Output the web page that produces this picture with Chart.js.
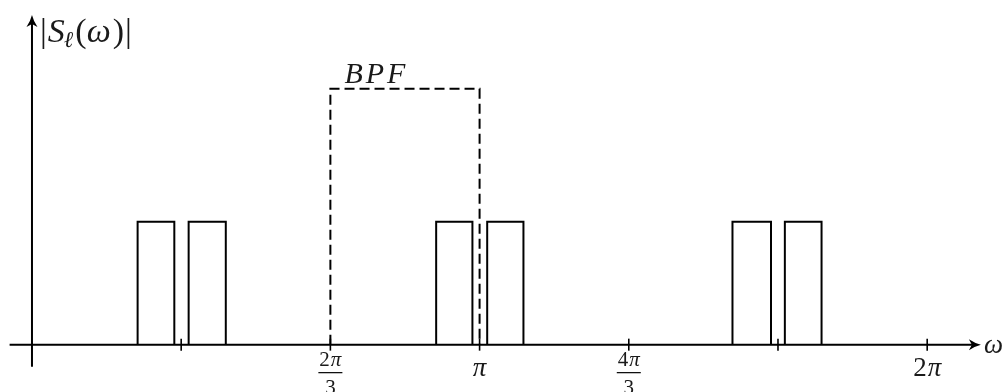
<!DOCTYPE html>
<html><head><meta charset="utf-8">
<script src="https://cdn.jsdelivr.net/npm/chart.js@4/dist/chart.umd.min.js"></script>
<style>html,body{margin:0;padding:0;background:#fff;overflow:hidden}</style>
</head><body>
<canvas id="c" width="1004" height="392"></canvas>
<script>
// Frequency axis values are multiples of π.
const bandLeft  = [0.236, 0.350, 0.903, 1.017, 1.565, 1.682];
const bandRight = [0.318, 0.433, 0.984, 1.098, 1.651, 1.764];
const bandLevel = 1;

const bpfLeft = 2 / 3;
const bpfRight = 1;
const bpfLevel = 2.08;
const bpfName = 'BPF';

const tickValues = [1 / 3, 2 / 3, 1, 4 / 3, 5 / 3, 2];
const tickNumerators = ['', '2π', 'π', '4π', '', '2π'];
const tickDenominators = ['', '3', '', '3', '', ''];

const xAxisName = 'ω';

const SERIF = '"Liberation Serif", "DejaVu Serif", serif';

const bandSets = bandLeft.map((l, i) => ({
  data: [{x: l, y: 0}, {x: l, y: bandLevel}, {x: bandRight[i], y: bandLevel}, {x: bandRight[i], y: 0}],
  borderColor: '#000', borderWidth: 2, pointRadius: 0, tension: 0, fill: false
}));

const bpfSet = {
  data: [{x: bpfLeft, y: 0}, {x: bpfLeft, y: bpfLevel}, {x: bpfRight, y: bpfLevel}, {x: bpfRight, y: 0}],
  borderColor: '#000', borderWidth: 2, borderDash: [10, 5], pointRadius: 0, tension: 0, fill: false
};

// draw a math string: digits upright, letters italic
function mathText(ctx, str, x, y, size, align, spacing) {
  const gap = spacing || 0;
  const pieces = [...str].map(ch => ({ch, font: (/[0-9()|]/.test(ch) ? '' : 'italic ') + size + 'px ' + SERIF}));
  let w = 0;
  pieces.forEach(p => { ctx.font = p.font; p.w = ctx.measureText(p.ch).width + gap; w += p.w; });
  w -= gap;
  let cx = align === 'center' ? x - w / 2 : x;
  pieces.forEach(p => { ctx.font = p.font; ctx.fillText(p.ch, cx, y); cx += p.w; });
  return w;
}

function arrowHead(ctx, tx, ty, dir) {
  ctx.save();
  ctx.translate(tx, ty);
  if (dir === 'up') ctx.rotate(-Math.PI / 2);
  ctx.beginPath();
  ctx.moveTo(0, 0);
  ctx.quadraticCurveTo(-6, -1.5, -12, -5.5);
  ctx.lineTo(-9, 0);
  ctx.lineTo(-12, 5.5);
  ctx.quadraticCurveTo(-6, 1.5, 0, 0);
  ctx.closePath();
  ctx.fill();
  ctx.restore();
}

const axesPlugin = {
  id: 'mathAxes',
  afterDatasetsDraw(chart) {
    const ctx = chart.ctx;
    const xs = chart.scales.x, ys = chart.scales.y;
    const y0 = ys.getPixelForValue(0);
    const x0 = xs.getPixelForValue(0);
    const xl = xs.getPixelForValue(xs.min), xr = xs.getPixelForValue(xs.max);
    const yb = ys.getPixelForValue(ys.min), yt = ys.getPixelForValue(ys.max);
    ctx.save();
    ctx.strokeStyle = '#000';
    ctx.fillStyle = '#000';
    ctx.lineWidth = 2;
    ctx.setLineDash([]);
    // axes
    ctx.beginPath();
    ctx.moveTo(xl, y0); ctx.lineTo(xr - 6, y0);
    ctx.moveTo(x0, yb); ctx.lineTo(x0, yt + 6);
    ctx.stroke();
    arrowHead(ctx, xr, y0, 'right');
    arrowHead(ctx, x0, yt, 'up');
    // ticks
    ctx.lineWidth = 1.6;
    tickValues.forEach(v => {
      const px = xs.getPixelForValue(v);
      ctx.beginPath();
      ctx.moveTo(px, y0 - 6); ctx.lineTo(px, y0 + 6);
      ctx.stroke();
    });
    // tick labels
    ctx.fillStyle = '#1a1a1a';
    ctx.textBaseline = 'alphabetic';
    tickValues.forEach((v, i) => {
      const px = xs.getPixelForValue(v);
      const num = tickNumerators[i], den = tickDenominators[i];
      if (!num) return;
      if (den) {
        const w = mathText(ctx, num, px, y0 + 21, 21, 'center', 1);
        ctx.lineWidth = 1.2;
        ctx.beginPath();
        ctx.moveTo(px - w / 2 - 1, y0 + 28); ctx.lineTo(px + w / 2 + 1, y0 + 28);
        ctx.stroke();
        mathText(ctx, den, px, y0 + 49, 21, 'center');
      } else {
        mathText(ctx, num, px, y0 + 31, 27, 'center', 1);
      }
    });
    // axis names
    mathText(ctx, xAxisName, xr + 3, y0 + 8, 27, 'left');
    let cx = x0 + 8;
    const by = 42;
    ctx.font = '34px ' + SERIF; ctx.fillText('|', cx, by); cx += ctx.measureText('|').width + 1;
    ctx.font = 'italic 34px ' + SERIF; ctx.fillText('S', cx, by); cx += ctx.measureText('S').width;
    ctx.font = 'italic 23px ' + SERIF; ctx.fillText('ℓ', cx - 1, by + 5); cx += ctx.measureText('ℓ').width + 1;
    ctx.font = '34px ' + SERIF; ctx.fillText('(', cx, by); cx += ctx.measureText('(').width;
    ctx.font = 'italic 34px ' + SERIF; ctx.fillText('ω', cx, by); cx += ctx.measureText('ω').width + 2;
    ctx.font = '34px ' + SERIF; ctx.fillText(')', cx, by); cx += ctx.measureText(')').width + 1;
    ctx.fillText('|', cx, by);
    // filter name
    mathText(ctx, bpfName, xs.getPixelForValue(bpfLeft) + 14, ys.getPixelForValue(bpfLevel) - 6, 30, 'left', 3);
    ctx.restore();
  }
};

new Chart(document.getElementById('c'), {
  type: 'line',
  data: { datasets: [...bandSets, bpfSet] },
  options: {
    responsive: false,
    animation: false,
    devicePixelRatio: 1,
    layout: { padding: { left: 9.6, right: 23.1, top: 15, bottom: 25.2 } },
    scales: {
      x: { type: 'linear', display: false, min: -0.05, max: 2.12 },
      y: { type: 'linear', display: false, min: -0.18, max: 2.68 }
    },
    plugins: { legend: { display: false }, tooltip: { enabled: false } }
  },
  plugins: [axesPlugin]
});
</script>
</body></html>
